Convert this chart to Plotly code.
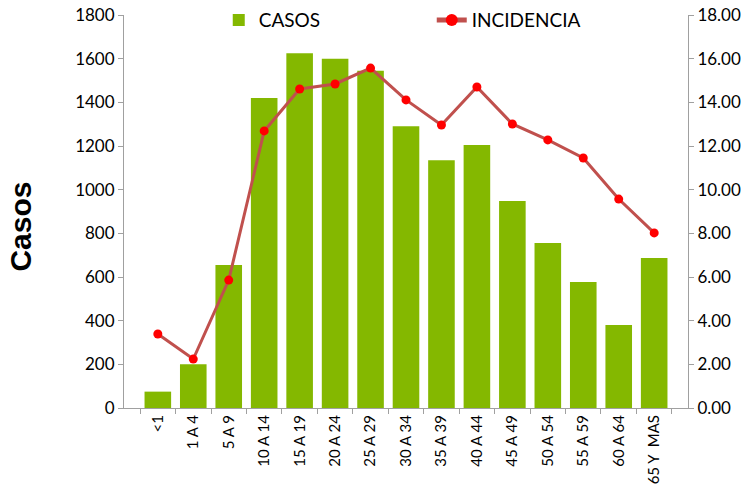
import plotly.graph_objects as go

categories = ["<1", "1 A 4", "5 A 9", "10 A 14", "15 A 19", "20 A 24", "25 A 29",
              "30 A 34", "35 A 39", "40 A 44", "45 A 49", "50 A 54", "55 A 59",
              "60 A 64", "65 Y  MAS"]
casos = [75, 200, 655, 1420, 1625, 1600, 1545, 1290, 1135, 1205, 948, 756, 577, 380, 687]
incidencia = [3.39, 2.24, 5.86, 12.69, 14.61, 14.84, 15.57, 14.11, 12.96, 14.70,
              13.01, 12.28, 11.45, 9.57, 8.02]

fig = go.Figure()
fig.add_trace(go.Bar(
    x=categories, y=casos, name="CASOS",
    marker=dict(color="#84b800", line=dict(width=0)),
))
fig.add_trace(go.Scatter(
    x=categories, y=incidencia, name="INCIDENCIA", yaxis="y2",
    mode="lines+markers",
    line=dict(color="#c0504d", width=3),
    marker=dict(color="#ff0000", size=9),
))

font = "Lato, 'Liberation Sans', sans-serif"
fig.update_layout(
    width=754, height=488,
    margin=dict(l=124, r=66, t=15, b=80, autoexpand=False),
    paper_bgcolor="white", plot_bgcolor="white",
    font=dict(family=font, color="#000000"),
    bargap=0.25,
    showlegend=True,
    legend=dict(orientation="h", x=0.168, y=0.987, xanchor="left", yanchor="middle",
                font=dict(size=19, family=font), entrywidth=168,
                bgcolor="rgba(0,0,0,0)", itemsizing="constant"),
    xaxis=dict(
        type="category", tickangle=-90, tickfont=dict(size=15, family=font),
        showline=True, linecolor="#a0a0a0", linewidth=1, automargin=False,
        ticks="outside", ticklen=5, tickcolor="#a0a0a0", tickson="boundaries",
        showgrid=False,
    ),
    yaxis=dict(
        range=[0, 1800], dtick=200, tickfont=dict(size=17, family=font),
        showline=True, linecolor="#a0a0a0", linewidth=1, automargin=False,
        ticks="outside", ticklen=5, tickcolor="#a0a0a0",
        showgrid=False, zeroline=False,
    ),
    yaxis2=dict(
        range=[0, 18], dtick=2, tickformat=".2f", overlaying="y", side="right",
        tickfont=dict(size=17, family=font), automargin=False,
        showline=True, linecolor="#a0a0a0", linewidth=1,
        ticks="outside", ticklen=5, tickcolor="#a0a0a0",
        showgrid=False, zeroline=False,
    ),
    annotations=[dict(
        text="<b>Casos</b>", textangle=-90, showarrow=False,
        xref="paper", yref="paper", x=-0.183, y=0.461,
        xanchor="center", yanchor="middle",
        font=dict(size=30, family="'Liberation Sans', Arial, sans-serif", color="#000000"),
    )],
)

fig.write_html("out.html", config={"displayModeBar": False},
               post_script="document.body.style.margin='0';")
